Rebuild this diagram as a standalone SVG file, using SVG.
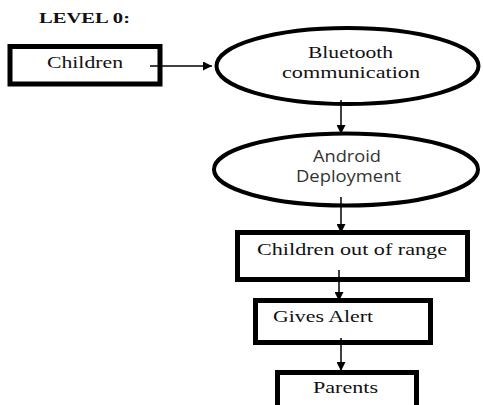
<svg xmlns="http://www.w3.org/2000/svg" width="483" height="405" viewBox="0 0 483 405">
<defs>
<style>
.box{fill:#fff;stroke:#000;stroke-width:5}
.ell{fill:#fff;stroke:#000;stroke-width:4}
.conn{stroke:#000;stroke-width:1.5;fill:none;marker-end:url(#ah)}
</style>
<marker id="ah" viewBox="0 0 10 10" refX="10" refY="5" markerWidth="10" markerHeight="9" markerUnits="userSpaceOnUse" orient="auto">
<path d="M0,0 L10,5 L0,10 Z" fill="#000"/>
</marker>
</defs>
<rect width="483" height="405" fill="#fff"/>
<text x="39" y="23" font-family="'Liberation Serif', 'Times New Roman', serif" font-size="14" font-weight="bold" fill="#111" textLength="91" lengthAdjust="spacingAndGlyphs">LEVEL 0:</text>
<g id="children">
<rect class="box" x="10" y="46.5" width="150" height="37.5"/>
<text x="47" y="68" font-family="'Liberation Serif', 'Times New Roman', serif" font-size="17" fill="#111" textLength="76" lengthAdjust="spacingAndGlyphs">Children</text>
</g>
<g id="bluetooth">
<ellipse class="ell" cx="347.5" cy="66" rx="131" ry="38"/>
<text x="308" y="58" font-family="'Liberation Serif', 'Times New Roman', serif" font-size="17" fill="#111" textLength="85" lengthAdjust="spacingAndGlyphs">Bluetooth</text>
<text x="282" y="78" font-family="'Liberation Serif', 'Times New Roman', serif" font-size="17" fill="#111" textLength="138" lengthAdjust="spacingAndGlyphs">communication</text>
</g>
<g id="android">
<ellipse class="ell" cx="346" cy="169.5" rx="132" ry="36"/>
<text x="313" y="162" font-family="'Open Sans', 'Liberation Sans', sans-serif" font-size="16" fill="#333" textLength="68" lengthAdjust="spacingAndGlyphs">Android</text>
<text x="296" y="182" font-family="'Open Sans', 'Liberation Sans', sans-serif" font-size="16" fill="#333" textLength="105" lengthAdjust="spacingAndGlyphs">Deployment</text>
</g>
<g id="outofrange">
<rect class="box" x="237.5" y="232.5" width="230" height="47"/>
<text x="257" y="255" font-family="'Liberation Serif', 'Times New Roman', serif" font-size="17" fill="#111" textLength="190" lengthAdjust="spacingAndGlyphs">Children out of range</text>
</g>
<g id="alert">
<rect class="box" x="255.5" y="300.5" width="175" height="42"/>
<text x="273" y="322" font-family="'Liberation Serif', 'Times New Roman', serif" font-size="17" fill="#111" textLength="100" lengthAdjust="spacingAndGlyphs">Gives Alert</text>
</g>
<g id="parents">
<rect class="box" x="277.5" y="372.5" width="139" height="45"/>
<text x="313" y="393" font-family="'Liberation Serif', 'Times New Roman', serif" font-size="17" fill="#111" textLength="65" lengthAdjust="spacingAndGlyphs">Parents</text>
</g>
<g id="connectors">
<line class="conn" x1="150" y1="66" x2="212" y2="66"/>
<line class="conn" x1="341" y1="100" x2="341" y2="134"/>
<line class="conn" x1="341" y1="197" x2="341" y2="233"/>
<line class="conn" x1="339" y1="270" x2="339" y2="301"/>
<line class="conn" x1="341" y1="338" x2="341" y2="371"/>
</g>
</svg>
